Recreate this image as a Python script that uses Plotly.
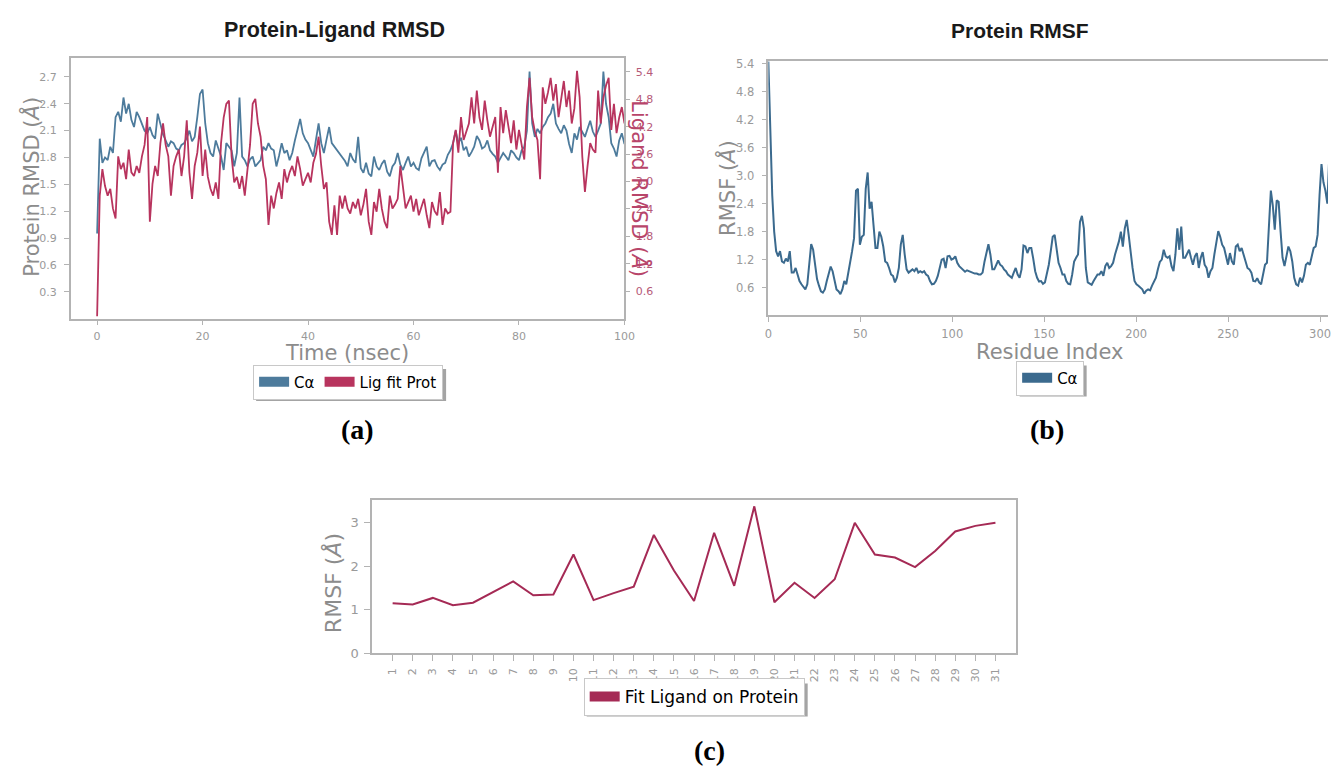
import numpy as np
import plotly.graph_objects as go

# ---------------- data ----------------
# (a) Protein-Ligand RMSD, sampled every 0.5 ns from 0 to 100 ns
ca_rmsd = [
    0.95, 2.01, 1.74, 1.80, 1.77, 1.92, 1.85, 2.25, 2.31, 2.20, 2.47, 2.29, 2.40, 2.22, 2.14, 2.31, 2.25, 2.18, 2.10, 2.07,
    2.14, 2.05, 2.01, 2.29, 2.18, 2.06, 1.99, 1.92, 1.98, 1.96, 1.90, 1.88, 1.94, 1.96, 2.02, 2.10, 1.98, 2.03, 2.25, 2.51,
    2.56, 2.18, 1.96, 1.85, 1.81, 1.99, 1.90, 1.81, 1.66, 1.96, 1.92, 1.88, 1.70, 1.85, 2.47, 1.81, 1.77, 1.70, 1.78, 1.81,
    1.70, 1.74, 1.77, 1.92, 1.88, 1.96, 1.90, 1.88, 1.70, 1.82, 1.96, 1.85, 1.88, 1.77, 1.85, 1.99, 2.10, 2.23, 2.07, 2.00,
    1.96, 1.88, 1.81, 2.00, 2.18, 1.96, 1.85, 2.00, 2.14, 1.96, 1.92, 1.88, 1.84, 1.81, 1.76, 1.70, 1.85, 1.78, 1.74, 2.03,
    1.68, 1.63, 1.74, 1.62, 1.59, 1.81, 1.70, 1.66, 1.73, 1.77, 1.64, 1.59, 1.70, 1.74, 1.85, 1.72, 1.66, 1.74, 1.81, 1.70,
    1.74, 1.68, 1.66, 1.79, 1.85, 1.92, 1.70, 1.76, 1.77, 1.70, 1.66, 1.72, 1.74, 1.83, 1.88, 1.96, 2.10, 1.96, 2.02, 1.88,
    1.92, 1.81, 1.86, 1.92, 2.04, 1.99, 1.90, 1.92, 1.99, 1.88, 1.84, 1.81, 1.74, 1.80, 1.85, 1.81, 1.77, 1.88, 1.85, 1.80,
    1.77, 1.88, 1.92, 2.10, 2.76, 2.18, 2.03, 2.12, 2.07, 2.14, 2.18, 2.25, 2.29, 2.40, 2.18, 2.12, 2.07, 2.16, 2.10, 1.95,
    1.85, 2.07, 2.00, 2.14, 2.08, 2.03, 2.12, 2.21, 2.09, 2.03, 2.10, 2.18, 2.76, 2.40, 2.25, 1.96, 1.90, 1.81, 1.99, 2.07,
    1.95,
]
lig_rmsd = [
    0.05, 2.69, 3.27, 2.90, 2.69, 2.84, 2.41, 2.19, 3.55, 3.27, 3.41, 3.05, 3.70, 3.20, 3.12, 3.34, 3.19, 3.55, 3.80, 4.41,
    2.12, 2.95, 3.34, 3.12, 3.84, 4.27, 3.80, 3.55, 2.69, 3.34, 3.55, 3.70, 3.12, 3.55, 4.34, 3.20, 2.62, 3.34, 3.63, 4.20,
    3.12, 3.70, 3.10, 2.84, 2.69, 2.98, 2.62, 3.84, 4.40, 4.70, 4.77, 3.55, 2.98, 3.10, 2.84, 3.12, 2.69, 3.19, 3.80, 4.70,
    4.81, 4.27, 3.98, 3.34, 3.05, 2.05, 2.69, 2.41, 2.75, 2.98, 2.62, 3.27, 2.98, 3.20, 3.34, 3.12, 3.55, 3.27, 2.91, 3.05,
    3.19, 2.98, 3.41, 3.60, 3.98, 3.34, 2.84, 2.98, 2.12, 1.83, 2.48, 1.83, 2.69, 2.41, 2.69, 2.41, 2.30, 2.55, 2.41, 2.62,
    2.26, 2.50, 2.84, 2.12, 1.83, 2.55, 2.34, 2.84, 2.40, 2.12, 1.98, 2.69, 2.41, 2.50, 2.62, 3.34, 2.84, 2.41, 2.55, 2.69,
    2.34, 2.62, 2.26, 2.45, 2.62, 2.26, 1.98, 2.55, 2.35, 2.26, 2.77, 2.05, 2.41, 2.30, 2.34, 3.84, 4.13, 3.63, 4.41, 3.91,
    4.10, 4.27, 4.84, 4.27, 4.99, 4.40, 4.13, 4.77, 4.34, 3.98, 4.20, 4.41, 3.19, 4.63, 4.06, 4.56, 4.20, 3.84, 4.34, 3.70,
    4.13, 3.80, 3.48, 4.63, 5.27, 4.41, 4.10, 3.91, 3.05, 5.06, 4.70, 4.95, 5.27, 4.77, 5.13, 4.41, 4.80, 5.20, 4.63, 4.99,
    4.27, 4.60, 5.42, 4.84, 3.55, 2.77, 3.34, 3.84, 3.70, 3.63, 4.99, 4.27, 4.84, 5.10, 5.27, 4.13, 4.70, 4.06, 4.40, 4.63,
    4.27,
]
time_start, time_end = 0, 100

# (b) Protein RMSF (C-alpha), residues 0 .. 305
rmsf_ca = [
    5.45, 4.13, 2.58, 1.80, 1.38, 1.27, 1.38, 1.16, 1.13, 1.22,
    1.16, 1.38, 0.92, 0.92, 1.02, 0.88, 0.74, 0.67, 0.60, 0.56,
    0.67, 1.16, 1.53, 1.41, 1.02, 0.78, 0.64, 0.52, 0.49, 0.56,
    0.74, 0.92, 1.05, 0.95, 0.74, 0.56, 0.52, 0.46, 0.56, 0.74,
    0.67, 0.88, 1.16, 1.38, 1.66, 2.68, 2.72, 1.52, 1.69, 1.73,
    2.72, 3.07, 2.29, 2.44, 1.94, 1.45, 1.45, 1.80, 1.69, 1.48,
    1.16, 1.13, 1.02, 0.88, 0.85, 0.71, 0.81, 1.02, 1.52, 1.73,
    1.31, 0.99, 0.92, 0.95, 0.99, 0.95, 1.02, 0.92, 0.95, 0.92,
    0.95, 0.88, 0.85, 0.74, 0.67, 0.68, 0.74, 0.85, 1.02, 1.20,
    1.22, 1.02, 1.27, 1.28, 1.20, 1.22, 1.27, 1.13, 1.06, 1.02,
    0.99, 0.94, 0.97, 0.95, 0.94, 0.92, 0.90, 0.90, 0.88, 0.88,
    0.92, 1.16, 1.38, 1.53, 1.31, 0.99, 0.99, 1.09, 1.18, 1.09,
    1.06, 0.99, 0.95, 0.88, 0.85, 0.81, 0.92, 1.02, 0.88, 0.81,
    0.99, 1.50, 1.48, 1.34, 1.45, 1.45, 1.22, 0.95, 0.81, 0.73,
    0.74, 0.68, 0.71, 0.88, 1.09, 1.38, 1.69, 1.73,
    1.45, 1.13, 1.02, 0.88, 0.88, 0.74, 0.68, 0.67, 0.88, 1.16,
    1.24, 1.31, 2.01, 2.14, 1.87, 1.02, 0.71, 0.68, 0.66, 0.74,
    0.81, 0.88, 0.88, 0.95, 0.85, 1.06, 1.13, 1.02, 1.06, 1.13,
    1.31, 1.45, 1.59, 1.80, 1.48, 1.87, 2.05, 1.73, 1.31, 1.02,
    0.74, 0.67, 0.64, 0.60, 0.56, 0.47, 0.53, 0.56, 0.54, 0.64,
    0.74, 0.81, 0.99, 1.15, 1.20, 1.41, 1.27, 1.24, 1.27, 1.06,
    0.95, 1.31, 1.87, 1.41, 1.91, 1.24, 1.24, 1.31, 1.41, 1.24,
    1.09, 1.27, 1.34, 1.02, 1.24, 1.36, 1.09, 1.02, 0.81, 0.95,
    1.02, 1.31, 1.59, 1.81, 1.69, 1.52, 1.45, 1.24, 1.09, 1.34,
    1.16, 1.09, 1.48, 1.52, 1.38, 1.45, 1.31, 1.16, 1.02, 0.99,
    0.92, 0.74, 0.73, 0.80, 0.71, 0.67, 0.88, 1.09, 1.13, 2.01,
    2.68, 2.36, 1.84, 2.47, 2.44, 1.80, 1.24, 1.06, 1.31, 1.48,
    1.38, 1.16, 0.81, 0.67, 0.64, 0.81, 0.71, 0.85, 1.09, 1.13,
    1.09, 1.31, 1.45, 1.48, 1.73, 2.58, 3.25, 2.86, 2.68, 2.40,
    3.42,
]
residue_start, residue_end = 0, 305

# (c) Ligand RMSF per atom
lig_atoms = list(range(1, 32))
lig_rmsf = [1.15, 1.12, 1.27, 1.10, 1.16, 1.40, 1.65, 1.33, 1.35, 2.27, 1.22, 1.38, 1.53, 2.72, 1.90, 1.20,
            2.77, 1.55, 3.38, 1.17, 1.62, 1.27, 1.70, 3.00, 2.27, 2.20, 1.98, 2.35, 2.80, 2.93, 3.00]

ticks_a_x = [0, 20, 40, 60, 80, 100]
ticks_a_y = [0.3, 0.6, 0.9, 1.2, 1.5, 1.8, 2.1, 2.4, 2.7]
ticks_a_y2 = [0.6, 1.2, 1.8, 2.4, 3.0, 3.6, 4.2, 4.8, 5.4]
ticks_b_x = [0, 50, 100, 150, 200, 250, 300]
ticks_b_y = [0.6, 1.2, 1.8, 2.4, 3.0, 3.6, 4.2, 4.8, 5.4]
ticks_c_y = [0, 1, 2, 3]

# ---------------- styling ----------------
REF_W, REF_H = 1339, 773          # layout positions are given as fractions of this frame
BLUE_A = "#4d7b9c"
RED_A = "#b8345e"
BLUE_B = "#3b6a8e"
RED_C = "#a52a55"
SPINE = "#b3b3b3"
TICKTXT = "#9a9a9a"
AXTITLE = "#8c8c8c"
FONT = "DejaVu Sans"


def px(x):
    return x / REF_W


def py(y):
    return 1 - y / REF_H


time_a = np.linspace(time_start, time_end, len(ca_rmsd))
time_b = np.linspace(time_start, time_end, len(lig_rmsd))
residues = np.linspace(residue_start, residue_end, len(rmsf_ca))

fig = go.Figure()

# panel (a)
fig.add_trace(go.Scatter(x=time_a, y=ca_rmsd, mode="lines", line=dict(color=BLUE_A, width=1.8),
                         xaxis="x", yaxis="y", showlegend=False))
fig.add_trace(go.Scatter(x=time_b, y=lig_rmsd, mode="lines", line=dict(color=RED_A, width=1.8),
                         xaxis="x", yaxis="y2", showlegend=False))
fig.add_trace(go.Scatter(x=[None], y=[None], mode="lines", line=dict(color=BLUE_A, width=10),
                         name="Cα", xaxis="x", yaxis="y", legend="legend"))
fig.add_trace(go.Scatter(x=[None], y=[None], mode="lines", line=dict(color=RED_A, width=10),
                         name="Lig fit Prot", xaxis="x", yaxis="y", legend="legend"))

# panel (b)
fig.add_trace(go.Scatter(x=residues, y=rmsf_ca, mode="lines", line=dict(color=BLUE_B, width=2),
                         xaxis="x2", yaxis="y3", showlegend=False))
fig.add_trace(go.Scatter(x=[None], y=[None], mode="lines", line=dict(color=BLUE_B, width=10),
                         name="Cα", xaxis="x2", yaxis="y3", legend="legend2"))

# panel (c)
fig.add_trace(go.Scatter(x=lig_atoms, y=lig_rmsf, mode="lines", line=dict(color=RED_C, width=2),
                         xaxis="x3", yaxis="y4", showlegend=False))
fig.add_trace(go.Scatter(x=[None], y=[None], mode="lines", line=dict(color=RED_C, width=10),
                         name="Fit Ligand on Protein", xaxis="x3", yaxis="y4", legend="legend3"))


def axstyle(size=11.5, ticklen=5, standoff=4):
    return dict(showline=True, linecolor=SPINE, linewidth=1.5, ticks="outside", ticklen=ticklen,
                tickcolor=SPINE, tickwidth=1.2, showgrid=False, zeroline=False,
                ticklabelstandoff=standoff,
                tickfont=dict(family=FONT, size=size, color=TICKTXT))


leg_common = dict(xanchor="center", yanchor="middle", orientation="h",
                  bgcolor="white", bordercolor="#c8c8c8", borderwidth=1)

LEG_A = (348, 384)
LEG_B = (1058, 380)
LEG_C = (698, 704)

fig.update_layout(
    autosize=True,
    margin=dict(l=0, r=0, t=0, b=0),
    paper_bgcolor="white", plot_bgcolor="white",
    xaxis=dict(domain=[px(67.5), px(627.5)], range=[-5, 100], tickvals=ticks_a_x, anchor="y",
               mirror=True, **axstyle(11, 5, 2)),
    yaxis=dict(domain=[py(319.5), py(55)], range=[0, 2.91], tickvals=ticks_a_y,
               ticktext=[f"{v:.1f}" for v in ticks_a_y], anchor="x", mirror=True, **axstyle(11, 5, 5)),
    yaxis2=dict(overlaying="y", side="right", range=[0, 5.70], tickvals=ticks_a_y2,
                ticktext=[f"{v:.1f}" for v in ticks_a_y2], anchor="x",
                showline=False, ticks="outside", ticklen=5, tickcolor=SPINE, tickwidth=1.2,
                showgrid=False, zeroline=False, ticklabelstandoff=3,
                tickfont=dict(family=FONT, size=11, color="#b65a78")),
    xaxis2=dict(domain=[px(773), 1.0], range=[0, (REF_W - 773) / 1.86], tickvals=ticks_b_x, anchor="y3",
                mirror=True, **axstyle(11.5, 5, 2)),
    yaxis3=dict(domain=[py(316.4), py(58)], range=[0, 5.46], tickvals=ticks_b_y,
                ticktext=[f"{v:.1f}" for v in ticks_b_y], anchor="x2", **axstyle(11.5, 5, 5)),
    xaxis3=dict(domain=[px(372.3), px(1023)], range=[-0.02, 32.0], tickvals=lig_atoms,
                ticktext=[str(a) for a in lig_atoms], tickangle=-90, anchor="y4",
                mirror=True, **axstyle(11, 6, 3)),
    yaxis4=dict(domain=[py(659.3), py(504.3)], range=[0, 3.515], tickvals=ticks_c_y,
                anchor="x3", mirror=True, **axstyle(13, 6, 3)),
    legend=dict(x=px(LEG_A[0]), y=py(LEG_A[1]), font=dict(family=FONT, size=15, color="black"), **leg_common),
    legend2=dict(x=px(LEG_B[0]), y=py(LEG_B[1]), font=dict(family=FONT, size=15, color="black"), **leg_common),
    legend3=dict(x=px(LEG_C[0]), y=py(LEG_C[1]), font=dict(family=FONT, size=17, color="black"), **leg_common),
)

# drop shadows behind the legend boxes (pixel sized, anchored at each legend centre)
shapes = []
for (cx, cy), (w, h) in [(LEG_A, (190, 32)), (LEG_B, (67, 31)), (LEG_C, (221, 33))]:
    shapes.append(dict(type="rect", xref="paper", yref="paper", xsizemode="pixel", ysizemode="pixel",
                       xanchor=px(cx), yanchor=py(cy),
                       x0=-w / 2 + 3, x1=w / 2 + 3, y0=-h / 2 - 3, y1=h / 2 - 3,
                       fillcolor="rgba(90,90,90,0.55)", line=dict(width=0), layer="above"))
fig.update_layout(shapes=shapes)

ann = []


def add_text(text, x, y, size, color, family=FONT, angle=0):
    ann.append(dict(text=text, x=px(x), y=py(y), xref="paper", yref="paper", showarrow=False,
                    xanchor="center", yanchor="middle", textangle=angle,
                    font=dict(family=family, size=size, color=color)))


add_text("<b>Protein-Ligand RMSD</b>", 334, 26, 21.5, "#1a1a1a", family="Liberation Sans")
add_text("<b>Protein RMSF</b>", 1028, 27, 21, "#1a1a1a", family="Liberation Sans")
add_text("Protein RMSD (<i>Å</i>)", 27, 186, 21, AXTITLE, angle=-90)
add_text("Ligand RMSD (<i>Å</i>)", 643, 188, 21, "#b8456a", angle=90)
add_text("Time (nsec)", 347, 355, 21, AXTITLE)
add_text("RMSF (<i>Å</i>)", 731, 187, 21, AXTITLE, angle=-90)
add_text("Residue Index", 1057, 353, 21, AXTITLE)
add_text("RMSF (<i>Å</i>)", 333, 588, 22, AXTITLE, angle=-90)
add_text("<b>(a)</b>", 357, 432, 28, "black", family="Liberation Serif")
add_text("<b>(b)</b>", 1055, 432, 28, "black", family="Liberation Serif")
add_text("<b>(c)</b>", 713, 758, 28, "black", family="Liberation Serif")

fig.update_layout(annotations=ann)
fig.write_html("out.html",
               default_width="100vw", default_height="100vh",
               config={"displayModeBar": False},
               post_script="document.body.style.margin='0';document.body.style.overflow='hidden';")
